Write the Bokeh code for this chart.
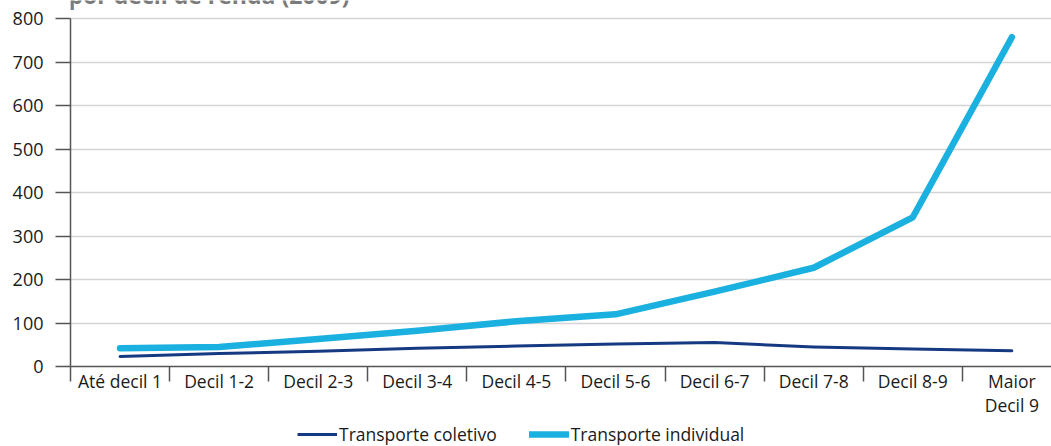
from bokeh.plotting import figure
from bokeh.layouts import column
from bokeh.models import Range1d, FixedTicker, Legend, LegendItem, Label
from bokeh.embed import file_html
from bokeh.resources import INLINE

categories = ["Até decil 1", "Decil 1-2", "Decil 2-3", "Decil 3-4", "Decil 4-5",
              "Decil 5-6", "Decil 6-7", "Decil 7-8", "Decil 8-9", "Maior\nDecil 9"]
coletivo = [23, 30, 35, 42, 47, 52, 55, 45, 40, 36]
individual = [42, 45, 63, 82, 104, 120, 172, 227, 343, 757]
y_ticks = [0, 100, 200, 300, 400, 500, 600, 700, 800]
series_names = ["Transporte coletivo", "Transporte individual"]
title_text = "por decil de renda (2009)"

FONT = "Open Sans"
C_COL = "#163a82"
C_IND = "#1ab0df"
xs = [i + 0.5 for i in range(len(categories))]

p = figure(width=1051, height=422, output_backend="svg", toolbar_location=None,
           x_range=Range1d(0, 9.9), y_range=Range1d(0, 841.4),
           min_border_left=70, min_border_right=0, min_border_top=0, min_border_bottom=56)
p.outline_line_color = None
p.background_fill_color = "white"
p.border_fill_color = "white"

p.line(xs, coletivo, line_color=C_COL, line_width=3, line_cap="round", line_join="round")
p.line(xs, individual, line_color=C_IND, line_width=6.5, line_cap="round", line_join="round")

p.xgrid.visible = False
p.ygrid.grid_line_color = "#d4d4d4"
p.ygrid.grid_line_width = 1.5
p.ygrid.ticker = FixedTicker(ticks=y_ticks)

p.yaxis.ticker = FixedTicker(ticks=y_ticks)
p.yaxis.bounds = (0, 800)
p.yaxis.axis_line_color = "#555555"
p.yaxis.axis_line_width = 1.5
p.yaxis.major_tick_line_color = "#555555"
p.yaxis.major_tick_line_width = 1.5
p.yaxis.major_tick_out = 15
p.yaxis.major_tick_in = 0
p.yaxis.minor_tick_line_color = None
p.yaxis.major_label_standoff = 12
p.yaxis.major_label_text_font = FONT
p.yaxis.major_label_text_font_size = "18px"
p.yaxis.major_label_text_color = "#1a1a1a"

p.xaxis.ticker = FixedTicker(ticks=xs, minor_ticks=list(range(0, 11)))
p.xaxis.major_label_overrides = {x: c for x, c in zip(xs, categories)}
p.xaxis.axis_line_color = "#555555"
p.xaxis.axis_line_width = 1.5
p.xaxis.major_tick_line_color = None
p.xaxis.major_tick_out = 0
p.xaxis.major_tick_in = 0
p.xaxis.minor_tick_line_color = "#555555"
p.xaxis.minor_tick_line_width = 1.5
p.xaxis.minor_tick_out = 15
p.xaxis.minor_tick_in = 0
p.xaxis.major_label_standoff = -13
p.xaxis.major_label_text_font = FONT
p.xaxis.major_label_text_font_size = "17.5px"
p.xaxis.major_label_text_color = "#1a1a1a"
p.xaxis.major_label_text_line_height = 1.0

title = Label(x=-0.02, y=853, x_units="data", y_units="data",
              text=title_text, text_font=FONT, text_font_size="23px", text_font_style="bold",
              text_color="#7a7a7a", text_baseline="alphabetic")
p.add_layout(title)

# legend strip (its lines lie outside its own view; only the legend samples show)
pl = figure(width=1051, height=24, output_backend="svg", toolbar_location=None,
            x_range=Range1d(0, 1), y_range=Range1d(-1, 0),
            x_axis_location=None, y_axis_location=None, min_border=0)
pl.outline_line_color = None
pl.grid.visible = False
pl.background_fill_color = "white"
pl.border_fill_color = "white"
l1 = pl.line(xs, coletivo, line_color=C_COL, line_width=3)
l2 = pl.line(xs, individual, line_color=C_IND, line_width=6.5, line_cap="round")
legend = Legend(items=[LegendItem(label=series_names[0], renderers=[l1]),
                       LegendItem(label=series_names[1], renderers=[l2])],
                orientation="horizontal", location=(227, 0),
                border_line_color=None, background_fill_alpha=0,
                padding=0, margin=0, spacing=32, glyph_width=40, glyph_height=20, label_standoff=2,
                label_text_font=FONT, label_text_font_size="17.5px", label_text_color="#1a1a1a")
pl.add_layout(legend, "center")

layout = column(p, pl, spacing=0)
open("out.html", "w").write(file_html(layout, INLINE))
